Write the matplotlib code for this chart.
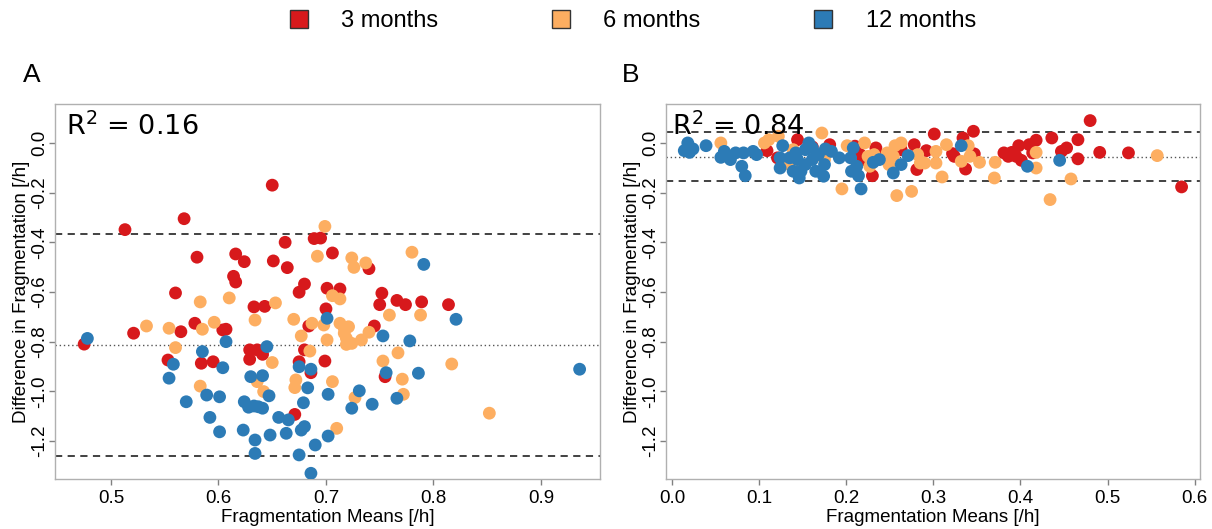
import matplotlib
matplotlib.use("Agg")
import matplotlib.pyplot as plt
from matplotlib.lines import Line2D

# ---------------- data ----------------
# Panel A  (x = fragmentation mean, y = difference)
a3_x = [0.513, 0.568, 0.650, 0.689, 0.695, 0.662, 0.580, 0.616, 0.624, 0.651, 0.664, 0.706,
        0.740, 0.614, 0.616, 0.560, 0.675, 0.680, 0.701, 0.713, 0.752, 0.633, 0.643, 0.700,
        0.750, 0.766, 0.774, 0.789, 0.814,
        0.521, 0.475, 0.565, 0.578, 0.604, 0.607, 0.553, 0.584, 0.595, 0.629, 0.636, 0.641,
        0.629, 0.671, 0.675, 0.686, 0.680, 0.684, 0.699, 0.745, 0.755]
a3_y = [-0.349, -0.305, -0.170, -0.385, -0.383, -0.400, -0.460, -0.447, -0.478, -0.475, -0.502, -0.443,
        -0.506, -0.537, -0.560, -0.604, -0.601, -0.568, -0.585, -0.588, -0.605, -0.660, -0.658, -0.668,
        -0.651, -0.634, -0.651, -0.640, -0.651,
        -0.766, -0.810, -0.760, -0.726, -0.753, -0.750, -0.874, -0.887, -0.881, -0.833, -0.833, -0.851,
        -0.871, -1.093, -0.881, -0.925, -0.833, -0.737, -0.878, -0.737, -0.941]

a6_x = [0.699, 0.692, 0.724, 0.726, 0.737, 0.780, 0.706, 0.713, 0.583, 0.610, 0.653,
        0.533, 0.554, 0.585, 0.596, 0.560, 0.583, 0.634, 0.650, 0.636, 0.642, 0.672, 0.671,
        0.685, 0.677, 0.687, 0.670, 0.698, 0.701, 0.706,
        0.713, 0.717, 0.721, 0.717, 0.719, 0.724, 0.719,
        0.727, 0.733, 0.740, 0.759, 0.753, 0.767, 0.771, 0.772, 0.788, 0.817, 0.852, 0.710]
a6_y = [-0.336, -0.456, -0.463, -0.501, -0.483, -0.440, -0.615, -0.628, -0.640, -0.624, -0.644,
        -0.737, -0.746, -0.750, -0.722, -0.824, -0.979, -0.713, -0.884, -0.961, -1.001, -0.954, -0.985,
        -0.838, -0.777, -0.726, -0.710, -0.733, -0.793, -0.961,
        -0.726, -0.746, -0.740, -0.766, -0.787, -0.807, -0.811,
        -1.025, -0.793, -0.762, -0.693, -0.878, -0.845, -0.951, -1.012, -0.693, -0.890, -1.088, -1.149]

a12_x = [0.478, 0.607, 0.585, 0.558, 0.604, 0.554, 0.570, 0.589, 0.601, 0.592, 0.601,
         0.645, 0.630, 0.641, 0.647, 0.624, 0.628, 0.633, 0.637, 0.641,
         0.623, 0.634, 0.634, 0.648, 0.656, 0.665, 0.663, 0.677, 0.680, 0.675, 0.686, 0.690, 0.702,
         0.679, 0.683, 0.675, 0.686, 0.701, 0.702,
         0.724, 0.731, 0.743, 0.753, 0.756, 0.766, 0.778, 0.786, 0.821, 0.936, 0.791]
a12_y = [-0.787, -0.800, -0.840, -0.891, -0.905, -0.947, -1.042, -1.015, -1.022, -1.105, -1.163,
         -0.820, -0.941, -0.937, -1.018, -1.042, -1.064, -1.059, -1.062, -1.068,
         -1.156, -1.196, -1.250, -1.176, -1.105, -1.115, -1.169, -1.156, -1.142, -1.256, -1.330, -1.216, -1.180,
         -1.046, -0.986, -0.901, -0.911, -0.706, -1.012,
         -1.068, -0.998, -1.052, -0.777, -0.925, -1.028, -0.797, -0.927, -0.710, -0.911, -0.489]

# Panel B
b3_x = [0.109, 0.121, 0.144, 0.161, 0.181, 0.210, 0.216, 0.221, 0.230, 0.234, 0.236, 0.278,
        0.281, 0.292, 0.301, 0.322, 0.324, 0.334, 0.337, 0.346, 0.347, 0.381, 0.386, 0.390,
        0.395, 0.401, 0.398, 0.410, 0.418, 0.436, 0.447, 0.453, 0.466, 0.466, 0.480, 0.491,
        0.524, 0.585, 0.263, 0.414]
b3_y = [-0.031, -0.060, 0.013, -0.016, -0.007, -0.013, -0.047, -0.067, -0.132, -0.020, -0.047, -0.007,
        -0.107, -0.031, 0.036, -0.043, -0.054, 0.020, -0.105, 0.047, -0.044, -0.040, -0.054, -0.038,
        -0.054, -0.070, -0.011, -0.007, 0.011, 0.020, -0.034, -0.020, 0.013, -0.064, 0.090, -0.038,
        -0.040, -0.177, -0.027, -0.040]

b6_x = [0.056, 0.106, 0.111, 0.122, 0.135, 0.139, 0.139, 0.172, 0.175, 0.195, 0.201, 0.221,
        0.225, 0.227, 0.247, 0.249, 0.256, 0.263, 0.258, 0.275, 0.282, 0.285, 0.290, 0.303,
        0.303, 0.310, 0.315, 0.332, 0.340, 0.342, 0.353, 0.370, 0.371, 0.418, 0.418, 0.434,
        0.458, 0.557, 0.232, 0.254]
b6_y = [0.000, 0.000, 0.013, 0.027, -0.087, -0.101, -0.027, 0.040, -0.067, -0.185, -0.011, 0.000,
        -0.054, -0.094, -0.040, -0.087, -0.011, 0.000, -0.212, -0.195, -0.047, -0.081, -0.081, -0.034,
        -0.081, -0.137, -0.007, -0.074, -0.011, -0.054, -0.078, -0.141, -0.078, -0.038, -0.101, -0.228,
        -0.145, -0.051, -0.047, -0.054]

b12_x = [0.014, 0.018, 0.020, 0.024, 0.039, 0.056, 0.060, 0.067, 0.073, 0.082, 0.080, 0.084,
         0.093, 0.097, 0.124, 0.127, 0.124, 0.135, 0.142, 0.146, 0.148, 0.153, 0.157, 0.161,
         0.165, 0.168, 0.174, 0.175, 0.176, 0.183, 0.192, 0.208, 0.205, 0.206, 0.212, 0.214,
         0.217, 0.231, 0.238, 0.254, 0.263, 0.271, 0.332, 0.408, 0.445, 0.153, 0.139, 0.144, 0.161]
b12_y = [-0.031, 0.000, -0.038, -0.024, -0.011, -0.058, -0.034, -0.067, -0.040, -0.040, -0.094, -0.132,
         -0.034, -0.047, -0.101, -0.011, -0.060, -0.060, -0.040, -0.141, -0.114, -0.027, 0.000, -0.020,
         -0.114, -0.047, -0.134, -0.087, -0.024, -0.034, -0.060, -0.020, -0.060, -0.114, -0.094, -0.132,
         -0.185, -0.078, -0.067, -0.121, -0.087, -0.051, -0.011, -0.094, -0.070, -0.087, -0.114, -0.067, -0.067]

# Bland-Altman reference lines (mean, upper, lower)
a_lines = [-0.8125, -0.366, -1.259]
b_lines = [-0.056, 0.043, -0.154]

r2_labels = ["0.16", "0.84"]
panel_letters = ["A", "B"]
legend_labels = ["3 months", "6 months", "12 months"]
colors = ["#d7191c", "#fdae61", "#2c7bb6"]

a_xticks = [0.5, 0.6, 0.7, 0.8, 0.9]
b_xticks = [0.0, 0.1, 0.2, 0.3, 0.4, 0.5, 0.6]
yticks = [0.0, -0.2, -0.4, -0.6, -0.8, -1.0, -1.2]

# ---------------- figure ----------------
plt.rcParams['font.family'] = ['Liberation Sans', 'DejaVu Sans']
fig = plt.figure(figsize=(12.12, 5.29), dpi=100)
axA = fig.add_axes([0.0454, 0.0945, 0.4496, 0.709])
axB = fig.add_axes([0.5495, 0.0945, 0.4405, 0.709])

edge = '#b0b0b0'


def style(ax, xticks, xlim, lines, r2, r2x):
    ax.set_xlim(*xlim)
    ax.set_ylim(-1.353, 0.157)
    for s in ax.spines.values():
        s.set_color(edge)
        s.set_linewidth(1.0)
    ax.set_xticks(xticks)
    ax.set_xticklabels([f"{t:.1f}" for t in xticks])
    ax.set_yticks(yticks)
    ax.set_yticklabels([f"{t:.1f}" for t in yticks], rotation=90, va='center')
    ax.tick_params(axis='both', colors='#808080', labelcolor='black', labelsize=13.5,
                   length=4, width=1)
    ax.tick_params(axis='x', pad=4)
    ax.tick_params(axis='y', pad=1)
    ax.set_xlabel("Fragmentation Means [/h]", fontsize=13.5, labelpad=1)
    ax.set_ylabel("Difference in Fragmentation [/h]", fontsize=13.5, labelpad=1)
    ax.axhline(lines[0], color='#555555', linestyle=(0, (1, 2)), linewidth=1.0, zorder=1)
    ax.axhline(lines[1], color='#333333', linestyle=(0, (4, 3)), linewidth=1.3, zorder=1)
    ax.axhline(lines[2], color='#333333', linestyle=(0, (4, 3)), linewidth=1.3, zorder=1)
    ax.text(r2x, 0.976, "R$^2$ = " + r2, transform=ax.transAxes, ha='left', va='top',
            fontsize=19.5, family='DejaVu Sans', zorder=5,
            math_fontfamily='dejavusans')


style(axA, a_xticks, (0.4479, 0.9549), a_lines, r2_labels[0], 0.02)
style(axB, b_xticks, (-0.007, 0.606), b_lines, r2_labels[1], 0.011)

ms = 85
for ax, xs, ys in [(axA, [a3_x, a6_x, a12_x], [a3_y, a6_y, a12_y]),
                   (axB, [b3_x, b6_x, b12_x], [b3_y, b6_y, b12_y])]:
    for x, y, c in zip(xs, ys, colors):
        ax.scatter(x, y, s=ms, color=c, edgecolors='none', zorder=3)

fig.text(0.019, 0.858, panel_letters[0], fontsize=19, ha='left', va='center')
fig.text(0.513, 0.858, panel_letters[1], fontsize=19, ha='left', va='center')

handles = [Line2D([], [], marker='s', linestyle='none', markersize=12.5,
                  markerfacecolor=c, markeredgecolor='#333333', markeredgewidth=1.0)
           for c in colors]
fig.legend(handles, legend_labels, loc='center', bbox_to_anchor=(0.521, 0.960), ncol=3,
           frameon=False, fontsize=17, handletextpad=1.3, columnspacing=4.7, handlelength=1.0)

fig.savefig("out.png", dpi=100)
